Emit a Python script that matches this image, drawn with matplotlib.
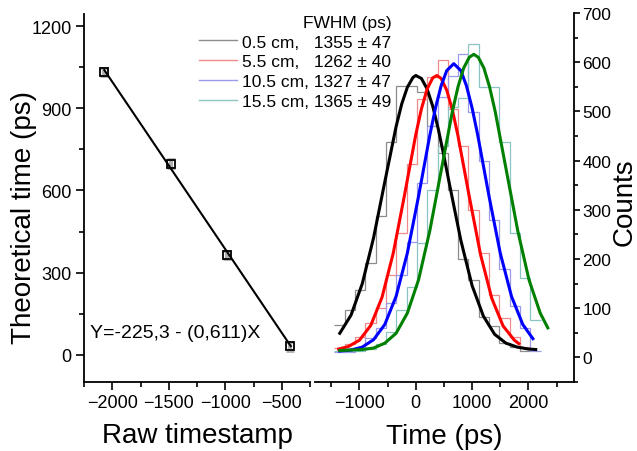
import matplotlib
matplotlib.use("Agg")
import matplotlib.pyplot as plt
from matplotlib.lines import Line2D
from matplotlib.ticker import MultipleLocator

plt.rcParams["font.family"] = ["Liberation Sans", "DejaVu Sans"]

# ---- left panel: calibration ----
raw_ts = [-2070, -1480, -985, -425]
theo_time = [1033, 698, 364, 31]
theo_err = [16, 16, 16, 16]
fit_x = [-2070, -420]
fit_y = [1040, 31]
fit_text = "Y=-225,3 - (0,611)X"

# ---- right panel: histograms (shared bin edges, ps) ----
bin_edges = [-1444, -1261, -1078, -895, -712, -529, -346, -163, 20, 203, 386,
             569, 752, 935, 1118, 1301, 1484, 1667, 1850, 2033, 2216]
hist_05 = [65, 97, 137, 192, 287, 437, 552, 552, 539, 470, 416, 340, 200,
           158, 83, 63, 30, 22, 12]
hist_55 = [20, 28, 41, 69, 100, 167, 253, 393, 525, 569, 604, 504, 429, 300,
           212, 127, 80, 41, 22]
hist_105 = [10, 10, 20, 40, 60, 110, 167, 235, 355, 470, 530, 571, 616, 498,
            400, 280, 180, 105, 59, 14]
hist_155 = [12, 12, 14, 18, 28, 51, 96, 143, 233, 340, 430, 508, 528, 637,
            549, 549, 437, 253, 161, 76]

# gaussian fit curves
fit05_x = [-1350, -1150, -950, -750, -550, -350, -250, -150, -50, 0, 100, 200,
           300, 400, 500, 600, 800, 1000, 1200, 1400, 1600, 1800, 2000, 2130]
fit05_y = [49, 86, 150, 243, 357, 469, 515, 549, 569, 573, 567, 546, 511, 464,
           409, 351, 238, 146, 84, 47, 29, 21, 17, 16]
fit55_x = [-1370, -1200, -1000, -800, -600, -400, -200, 0, 100, 200, 300, 373,
           450, 550, 650, 750, 950, 1150, 1350, 1550, 1750, 1830]
fit55_y = [17, 22, 35, 65, 122, 212, 330, 453, 505, 545, 568, 573, 567, 543,
           503, 450, 327, 209, 120, 64, 35, 28]
fit105_x = [-1350, -1150, -950, -750, -550, -350, -150, 50, 250, 350, 450, 550,
            675, 800, 900, 1000, 1100, 1300, 1500, 1700, 1900, 2080]
fit105_y = [13, 15, 21, 36, 67, 124, 212, 328, 452, 507, 552, 583, 597, 583,
            552, 507, 452, 328, 212, 124, 67, 38]
fit155_x = [-1350, -1150, -950, -750, -550, -350, -150, 50, 250, 450, 650, 750,
            850, 950, 1030, 1110, 1210, 1310, 1410, 1610, 1810, 2010, 2210, 2345]
fit155_y = [14, 15, 16, 19, 29, 49, 90, 158, 258, 379, 500, 550, 588, 610, 616,
            610, 588, 550, 500, 379, 258, 158, 90, 60]

labels = ["0.5 cm,   1355 \u00b1 47", "5.5 cm,   1262 \u00b1 40",
          "10.5 cm, 1327 \u00b1 47", "15.5 cm, 1365 \u00b1 49"]
hist_colors = ["#8c8c8c", "#f08a8a", "#9a9aea", "#8cc4c4"]
fit_colors = ["black", "#ff0000", "#0000ff", "#008000"]

W, H = 637, 452
fig = plt.figure(figsize=(W / 100, H / 100), dpi=100)
ax1 = fig.add_axes([84 / W, 1 - 383 / H, 226 / W, 368 / H])
ax2 = fig.add_axes([315 / W, 1 - 383 / H, 259 / W, 369 / H])

# left panel
ax1.errorbar(raw_ts, theo_time, yerr=theo_err, fmt="none", ecolor="#b0b0b0",
             elinewidth=3, capsize=3, capthick=2, zorder=2)
ax1.plot(fit_x, fit_y, color="black", lw=1.5, zorder=3)
ax1.plot(raw_ts, theo_time, ls="none", marker="s", ms=5.5, mfc="none",
         mec="black", mew=1.3, zorder=4)
ax1.text(-2200, 80, fit_text, fontsize=14, va="center", ha="left")
ax1.set_xlim(-2250, -250)
ax1.set_ylim(-100, 1245)
ax1.xaxis.set_major_locator(MultipleLocator(500))
ax1.xaxis.set_minor_locator(MultipleLocator(250))
ax1.yaxis.set_major_locator(MultipleLocator(300))
ax1.yaxis.set_minor_locator(MultipleLocator(150))
ax1.spines["top"].set_visible(False)
ax1.spines["right"].set_visible(False)
ax1.set_xlabel("Raw timestamp", fontsize=20)
ax1.set_ylabel("Theoretical time (ps)", fontsize=20)
ax1.xaxis.set_label_coords(0.5, -0.11)
ax1.yaxis.set_label_coords(-0.21, 0.45)

# right panel
hists = [hist_05, hist_55, hist_105, hist_155]
fits = [(fit05_x, fit05_y), (fit55_x, fit55_y), (fit105_x, fit105_y),
        (fit155_x, fit155_y)]
for h, c in zip(hists, hist_colors):
    ax2.stairs(h, bin_edges[:len(h) + 1], color=c, lw=0.9, baseline=None)
for (fx, fy), c in zip(fits, fit_colors):
    ax2.plot(fx, fy, color=c, lw=2.2, solid_joinstyle="round")
ax2.set_xlim(-1790, 2810)
ax2.set_ylim(-50, 700)
ax2.xaxis.set_major_locator(MultipleLocator(1000))
ax2.xaxis.set_minor_locator(MultipleLocator(500))
ax2.yaxis.set_major_locator(MultipleLocator(100))
ax2.yaxis.set_minor_locator(MultipleLocator(50))
ax2.spines["top"].set_visible(False)
ax2.spines["left"].set_visible(False)
ax2.yaxis.tick_right()
ax2.yaxis.set_label_position("right")
ax2.set_xlabel("Time (ps)", fontsize=20)
ax2.set_ylabel("Counts", fontsize=20)
ax2.xaxis.set_label_coords(0.5, -0.11)
ax2.yaxis.set_label_coords(1.145, 0.49)

for ax in (ax1, ax2):
    for s in ax.spines.values():
        s.set_linewidth(1.3)
    ax.tick_params(which="major", direction="out", length=6, width=1.2,
                   labelsize=13, pad=3)
    ax.tick_params(which="minor", direction="out", length=3.5, width=1.2)
ax2.tick_params(axis="y", which="major", length=4.5, pad=1.5, labelsize=12.5)
ax2.tick_params(axis="y", which="minor", length=3)

handles = [Line2D([], [], color=c, lw=1) for c in hist_colors]
fig.legend(handles, labels, title="FWHM (ps)", loc="upper right",
           bbox_to_anchor=(400 / W, 1 - 7 / H), frameon=False, fontsize=12.5,
           title_fontsize=12.5, handlelength=2.2, handletextpad=0.3,
           labelspacing=0.27, borderpad=0, alignment="right")

fig.savefig("out.png", dpi=100)
